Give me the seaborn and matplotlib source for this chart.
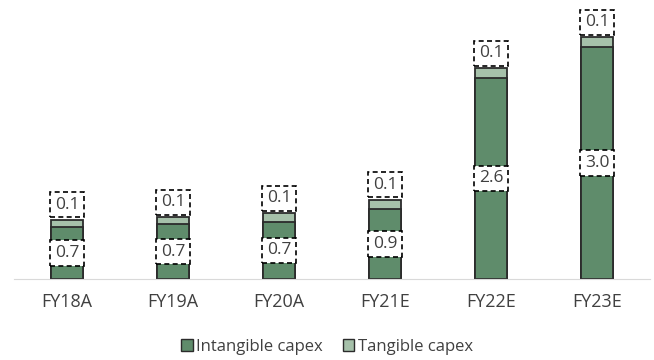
import seaborn as sns
import matplotlib.pyplot as plt
import pandas as pd
from matplotlib.patches import Patch

# Datos
years = ["FY18A", "FY19A", "FY20A", "FY21E", "FY22E", "FY23E"]
intangible = [0.67, 0.71, 0.74, 0.91, 2.61, 3.01]
tangible = [0.10, 0.09, 0.11, 0.12, 0.12, 0.12]

df = pd.DataFrame({"year": years, "intangible": intangible, "tangible": tangible})
df["total"] = df["intangible"] + df["tangible"]

c_int = "#5f8c6b"
c_tan = "#a6c1aa"
edge = "#2b2b2b"

sns.set_style("white")
plt.rcParams["font.family"] = ["Open Sans", "DejaVu Sans"]

fig = plt.figure(figsize=(6.54, 3.6), dpi=100)
ax = fig.add_axes([14 / 654, 81 / 360, 636 / 654, 274 / 360])

sns.barplot(data=df, x="year", y="total", color=c_tan, width=0.31,
            edgecolor=edge, linewidth=1.3, saturation=1, ax=ax)
sns.barplot(data=df, x="year", y="intangible", color=c_int, width=0.31,
            edgecolor=edge, linewidth=1.3, saturation=1, ax=ax)

box = dict(boxstyle="square,pad=0.27", fc="white", ec="black", ls=(0, (3, 2)), lw=1.2)
for i, row in df.iterrows():
    ax.text(i, row["intangible"] / 2, f"{row['intangible']:.1f}", ha="center", va="center",
            fontsize=12.5, color="#404040", bbox=box)
    ax.annotate(f"{row['tangible']:.1f}", (i, row["total"]), xytext=(0, 5),
                textcoords="offset points", ha="center", va="bottom",
                fontsize=12.5, color="#404040", bbox=box)

ax.set_xlim(-0.5, 5.5)
ax.set_ylim(0, 3.55)
ax.set_xlabel("")
ax.set_ylabel("")
ax.set_yticks([])
sns.despine(ax=ax, left=True)
ax.spines["bottom"].set_color("#d9d9d9")
ax.tick_params(axis="x", length=0, labelsize=13, labelcolor="#404040", pad=10)

handles = [Patch(facecolor=c_int, edgecolor=edge, label="Intangible capex"),
           Patch(facecolor=c_tan, edgecolor=edge, label="Tangible capex")]
fig.legend(handles=handles, loc="center", bbox_to_anchor=(0.5, 13 / 360), ncol=2,
           frameon=False, fontsize=12, handlelength=0.7, handleheight=0.7,
           handletextpad=0.2, columnspacing=1.2, labelcolor="#404040")

fig.savefig("out.png", dpi=100)
